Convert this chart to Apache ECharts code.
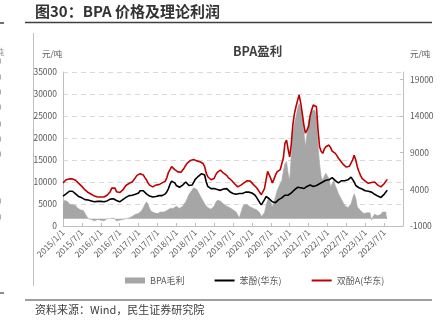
<!DOCTYPE html>
<html><head><meta charset="utf-8">
<script src="https://cdn.jsdelivr.net/npm/echarts@6/dist/echarts.min.js"></script>
<style>html,body{margin:0;padding:0;background:#fff}#c{width:448px;height:331px}</style>
</head><body><div id="c"></div>
<script>
// semi-monthly samples (1st and 15th of each month), starting 2015-01-01
const startYear = 2015;
const seriesNames = ['BPA毛利', '苯酚(华东)', '双酚A(华东)'];
const bpaPrice = [
9800,10100,10500,10600,10700,10900,10700,10500,10400,10200,9700,9300,9000,8600,8200,7900,7600,7400,7200,6900,6800,6700,6600,6700,
6600,6700,6600,6800,7000,7200,7800,8600,8900,8600,7800,7400,7600,7900,8200,8600,9200,9600,9700,10000,10000,10100,11000,11500,
11700,11900,11900,11600,11000,10500,9800,9300,9000,8900,9100,9300,9200,9400,9600,9800,9700,10200,11000,12200,12800,13500,13300,12800,
12600,12300,12500,12200,12400,13200,13800,14300,14600,14900,15000,15100,14900,14800,14800,14600,14300,14200,13500,12000,11200,10800,10500,10600,
10800,11600,12200,12500,12700,12300,12000,11600,11500,11000,10600,10400,10000,9600,9200,8900,9000,9300,9700,9800,10000,10300,10400,10200,
9800,9400,9200,8700,8200,7600,7100,7300,8500,10500,12400,12600,10800,9800,10600,11600,12300,12500,12800,13100,15500,18800,19500,17500,
15700,18500,23000,25500,27100,28500,29800,28000,25600,23000,21100,21800,22600,25000,26400,27500,27900,27100,22000,18000,17000,16500,17500,18000,
18200,18400,17800,17000,16900,16500,16000,15400,15000,14500,14000,13600,13400,13200,13600,13800,15000,16100,15000,13400,12400,11500,10800,10400,
10200,9900,9700,9800,9900,10000,10000,9700,9300,9100,8900,9200,9600,10000,10600
];
const phenolPrice = [
6800,6900,7300,7600,7900,8100,7900,7500,7300,7000,6700,6600,6400,6200,6000,6000,5900,5800,5700,5600,5500,5500,5600,5600,
5600,5500,5500,5500,5700,6000,6100,6200,6200,6000,5800,5500,5500,5700,6000,6200,6500,6800,6900,7000,7000,7100,7200,7400,
7500,8000,8300,8000,7600,7300,7000,6800,6700,6600,6600,6700,6800,6900,6800,6900,7000,7300,7800,8500,9500,10200,10500,9800,
9200,8900,8800,9000,9300,9600,10000,9700,9200,9000,9300,9900,10600,11000,11300,11600,11900,12000,11600,10000,9000,8600,8500,8600,
8500,8400,8300,8200,8100,8200,8400,8600,8500,8200,7800,7500,7400,7300,7200,7300,7400,7500,7400,7600,7700,7800,7700,7600,
7500,7300,7000,6500,5900,5300,4800,5000,6000,6700,6500,6200,5800,5500,5200,5300,5600,6000,6200,6400,6800,7000,7000,7000,
7100,7500,7800,8200,8500,8800,9000,8700,8800,8500,8800,9000,9200,9300,9200,9000,9300,9200,9400,9600,9800,10000,10200,10400,
10400,10500,10900,11000,10600,10300,10000,9800,10000,10300,10500,10300,10200,10500,10900,11100,10800,10000,9200,8900,8700,8500,8400,8200,
8000,8100,7900,7800,7700,7600,7200,7000,6800,6600,6500,6800,7200,7600,8100
];
const bpaMargin = [
1800,2500,2700,2300,2000,2100,1900,1700,1800,1500,1300,1200,1300,1100,700,450,0,-200,-100,-200,-300,-200,-100,-300,
-200,-100,-300,-200,0,100,0,-100,100,-100,-300,-400,-200,0,-100,100,0,200,100,200,300,400,600,700,
700,800,1100,1500,1900,2300,2000,1400,1000,900,800,700,700,800,900,1000,900,1000,1100,1300,1400,1500,1400,1600,
1700,1500,1400,1600,1700,1900,2300,2800,3300,3600,3900,4200,4100,4000,3600,3200,2800,2400,2000,1800,1500,1400,1300,1500,
1700,2200,2500,2600,2400,2200,2000,1800,1700,1600,1500,1300,1200,1000,900,500,100,800,1500,1900,2000,1900,1700,1600,
1500,1400,1300,1200,1100,800,300,100,800,1800,2500,2800,2200,1600,2200,3000,3800,4300,4800,5200,6500,7500,7800,6200,
5200,8500,11600,13000,13900,15000,15700,15000,14300,12000,9800,11500,13400,14200,14700,14900,14800,13900,10000,7500,5800,5200,5800,6200,
5800,5500,4300,4800,5200,4500,4000,3400,3000,2600,2200,1800,1600,1500,1700,2000,2800,3400,2800,1600,1400,1100,900,700,
700,800,900,800,-200,300,600,500,400,500,600,900,1100,900,700
];
const leftTicks = {min: 0, max: 35000, interval: 5000};
const rightTicks = {min: -1000, max: 20000, interval: 5000};

// x positions in fractional years for each sample
const xs = bpaPrice.map((_, i) => startYear + i / 24);
const pairs = arr => arr.map((v, i) => [xs[i], v]);

const FONT = '"Noto Sans CJK SC", "Noto Sans", sans-serif';
const chart = echarts.init(document.getElementById('c'), null, {renderer: 'canvas'});
const frag = [62, 78, 93, 108, 125, 140, 155, 202, 218].map(y => ({
  type: 'text', left: -3, top: y - 5, style: {text: '0', font: '8px ' + FONT, fill: '#8c8c8c'}
}));
const plain = v => String(Math.round(v));
chart.setOption({
  animation: false,
  textStyle: {fontFamily: FONT},
  grid: {left: 63, right: 45, top: 72, bottom: 105},
  xAxis: {
    type: 'value', min: 2015, max: 2024, interval: 0.5,
    axisLine: {show: true, lineStyle: {color: '#bfbfbf'}},
    axisTick: {show: true, inside: true, length: 3, lineStyle: {color: '#bfbfbf'}},
    splitLine: {show: false},
    axisLabel: {
      rotate: 45, fontSize: 8.5, color: '#595959', margin: 5, showMaxLabel: false,
      formatter: v => Math.floor(v + 1e-6) + '/' + ((v % 1) > 0.25 ? 7 : 1) + '/1'
    }
  },
  yAxis: [
    {type: 'value', min: leftTicks.min, max: leftTicks.max, interval: leftTicks.interval,
     axisLine: {show: true, lineStyle: {color: '#bfbfbf'}}, axisTick: {show: false},
     axisLabel: {fontSize: 8.5, color: '#595959', margin: 6, formatter: plain},
     splitLine: {show: true, lineStyle: {color: '#d9d9d9', type: [5, 4], width: 1}}},
    {type: 'value', min: rightTicks.min, max: rightTicks.max, interval: rightTicks.interval,
     position: 'right', alignTicks: false,
     axisLine: {show: true, lineStyle: {color: '#bfbfbf'}},
     axisTick: {show: true, inside: true, length: 3, lineStyle: {color: '#bfbfbf'}},
     axisLabel: {fontSize: 8.5, color: '#595959', margin: 7, showMaxLabel: false, formatter: plain},
     splitLine: {show: false}}
  ],
  legend: {
    left: 120, top: 271, itemWidth: 20, itemHeight: 6, itemGap: 30,
    textStyle: {fontSize: 9, color: '#595959'},
    data: [
      {name: seriesNames[0], icon: 'rect'},
      {name: seriesNames[1], icon: 'path://M0,0 L20,0 L20,2 L0,2 Z'},
      {name: seriesNames[2], icon: 'path://M0,0 L20,0 L20,2 L0,2 Z'}
    ]
  },
  series: [
    {name: seriesNames[0], type: 'line', yAxisIndex: 1, data: pairs(bpaMargin), symbol: 'none',
     lineStyle: {color: '#a6a6a6', width: 0.6}, itemStyle: {color: '#a6a6a6'},
     areaStyle: {color: '#a6a6a6', opacity: 1}, z: 1},
    {name: seriesNames[1], type: 'line', yAxisIndex: 0, data: pairs(phenolPrice), symbol: 'none',
     lineStyle: {color: '#000000', width: 1.6}, itemStyle: {color: '#000000'}, z: 3},
    {name: seriesNames[2], type: 'line', yAxisIndex: 0, data: pairs(bpaPrice), symbol: 'none',
     lineStyle: {color: '#c00000', width: 1.6}, itemStyle: {color: '#c00000'}, z: 4}
  ],
  graphic: [
    {type: 'text', left: 35, top: 4, style: {text: '图30：BPA 价格及理论利润', font: 'bold 15px ' + FONT, fill: '#333333'}},
    {type: 'line', shape: {x1: 25, y1: 22.5, x2: 432, y2: 22.5}, style: {stroke: '#404040', lineWidth: 1.5}},
    {type: 'line', shape: {x1: 0, y1: 23, x2: 4, y2: 23}, style: {stroke: '#404040', lineWidth: 1.5}},
    {type: 'line', shape: {x1: 33.5, y1: 33, x2: 33.5, y2: 286}, style: {stroke: '#bfbfbf', lineWidth: 1}},
    {type: 'line', shape: {x1: 25, y1: 300, x2: 432, y2: 300}, style: {stroke: '#404040', lineWidth: 1.2}},
    {type: 'line', shape: {x1: 0, y1: 293, x2: 4, y2: 293}, style: {stroke: '#404040', lineWidth: 1.2}},
    {type: 'text', left: -4, top: 48, style: {text: '吨', font: '8px ' + FONT, fill: '#8c8c8c'}},
    ...frag,
    {type: 'text', left: 35, top: 304, style: {text: '资料来源：Wind，民生证券研究院', font: '11px ' + FONT, fill: '#404040'}},
    {type: 'text', left: 42, top: 50, style: {text: '元/吨', font: '8.5px ' + FONT, fill: '#595959'}},
    {type: 'text', left: 410, top: 50, style: {text: '元/吨', font: '8.5px ' + FONT, fill: '#595959'}},
    {type: 'text', left: 233, top: 45, style: {text: 'BPA盈利', font: 'bold 12.5px ' + FONT, fill: '#404040', textAlign: 'center'}}
  ]
});
</script></body></html>
